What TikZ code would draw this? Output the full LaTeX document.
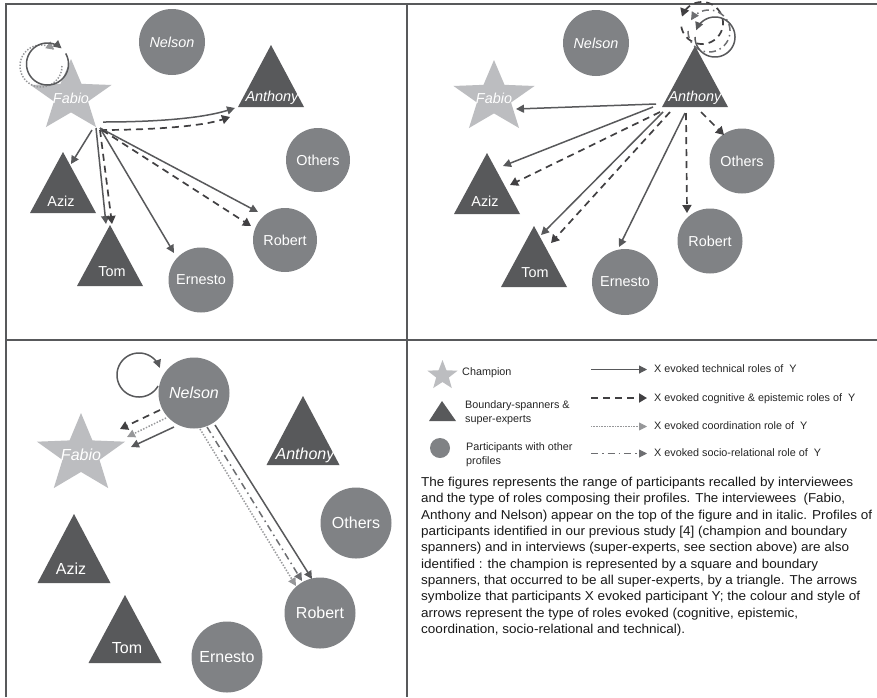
\documentclass[tikz,border=0pt]{standalone}
\usepackage{graphicx}
\usepackage{fontspec}
\setmainfont{Liberation Sans}
\usetikzlibrary{arrows.meta}
\definecolor{circ}{HTML}{808285}
\definecolor{tria}{HTML}{58595B}
\definecolor{stary}{HTML}{BCBDC0}
\definecolor{techc}{HTML}{58595B}
\definecolor{cogc}{HTML}{414042}
\definecolor{coorc}{HTML}{969799}
\definecolor{socc}{HTML}{6D6E71}
\definecolor{framec}{HTML}{58595B}
\tikzset{
  frameline/.style={draw=framec,line width=1.4},
  tech/.style={draw=techc,line width=1.5,-{Triangle[length=8,width=8,fill=techc]}},
  cog/.style={draw=cogc,line width=1.7,dash pattern=on 7 off 5,-{Triangle[length=8,width=9,fill=cogc]}},
  coor/.style={draw=coorc,line width=1.5,dash pattern=on 1.4 off 1.6,-{Triangle[length=8,width=8,fill=coorc]}},
  soc/.style={draw=socc,line width=1.5,dash pattern=on 7 off 4 on 1.5 off 4,-{Triangle[length=8,width=8,fill=socc]}},
  lgtech/.style={tech,line width=1},
  lgcog/.style={cog,line width=1.8},
  lgcoor/.style={coor,line width=.8,dash pattern=on .8 off .8},
  lgsoc/.style={soc,line width=.9},
  person/.style={circle,fill=circ,text=white,inner sep=0pt},
  small/.style={font=\fontsize{14.4}{17}\selectfont},
  big/.style={font=\fontsize{16}{19}\selectfont},
  plain/.style={text=white,inner sep=0pt},
  lgtext/.style={anchor=west,inner sep=0pt,text=black!85,font=\fontsize{10.8}{14}\selectfont,align=left},
  para/.style={anchor=north west,inner sep=0pt,text=black!90,align=left,font=\fontsize{12.9}{16.33}\selectfont},
}
\newcommand\trilabel[7]{% apex x,y, half width, base y, label pos, name, style
  \fill[tria] (#1,#2) -- (#1-#3,#4) -- (#1+#3,#4) -- cycle;
  \node[plain,#7] (#6) at (#5)
}
\newcommand\starpoly[4]{% cx, cy, Rx, Ry
  \fill[stary] plot[samples at={90,126,162,198,234,270,306,342,378,414},variable=\a]
    ({#1+#3*cos(\a)*(mod(\a,72)==18?1:0.42)},{#2-#4*sin(\a)*(mod(\a,72)==18?1:0.42)}) -- cycle;
}
\newcommand\link[5]{\coordinate (#2) at (#3); \coordinate (#4) at (#5); \draw[#1] (#2) -- (#4);}
\newcommand\selfloop[6]{\draw[#1,domain=#5:#6,samples=90,variable=\t] plot ({#2+#4*cos(\t)},{#3+#4*sin(\t)});}
\newcommand\pl[2]{\resizebox{#1pt}{\height}{#2}}
\begin{document}
\begin{tikzpicture}[x=1pt,y=-1pt]
\useasboundingbox (0,0) rectangle (877,697);
\fill[white] (0,0) rectangle (877,697);
% frame
\coordinate (fTL) at (6,4); \coordinate (fTR) at (877,4);
\coordinate (fBL) at (6,697); \coordinate (fTM) at (407,4); \coordinate (fBM) at (407,697);
\coordinate (fML) at (6,340); \coordinate (fMR) at (877,340);
\draw[frameline] (fBL) -- (fTL) -- (fTR);
\draw[frameline] (fTM) -- (fBM);
\draw[frameline] (fML) -- (fMR);

% ---------- panel 1
\node[person,small,minimum size=66] (N1) at (172,42) {\itshape Nelson};
\node[person,small,minimum size=64] (O1) at (318,160) {Others};
\node[person,small,minimum size=64] (R1) at (285,240) {Robert};
\node[person,small,minimum size=65] (E1) at (201,280) {Ernesto};
\trilabel{271}{45}{33}{107}{272,98}{An1}{small}{\itshape Anthony};
\trilabel{110}{225}{33}{286}{112,272}{To1}{small}{Tom};
\trilabel{63}{152}{33}{213}{61,201}{Az1}{small}{Aziz};
\starpoly{71}{96.6}{42.6}{37.6}
\node[plain,small] (F1) at (71,98) {\itshape Fabio};
\selfloop{coor}{41}{66}{21}{0}{309}
\selfloop{tech}{47.5}{64}{21}{-30}{312}
\coordinate (a1s) at (103,122); \coordinate (a1e) at (235,108);
\draw[tech] (a1s) .. controls (150,122) and (200,119) .. (a1e);
\coordinate (a2s) at (100,130); \coordinate (a2e) at (230,117);
\draw[cog] (a2s) .. controls (145,130) and (200,127) .. (a2e);
\link{tech}{a3s}{92,130}{a3e}{71,164}
\link{tech}{a4s}{96,128}{a4e}{106,224}
\link{cog}{a5s}{100,130}{a5e}{112,224}
\link{tech}{a6s}{100,128}{a6e}{174,253}
\link{tech}{a7s}{100,128}{a7e}{258,212}
\link{cog}{a8s}{102,130}{a8e}{251,226}

% ---------- panel 2
\node[person,small,minimum size=66] (N2) at (596,43) {\itshape Nelson};
\node[person,small,minimum size=65] (O2) at (742,161) {Others};
\node[person,small,minimum size=65] (R2) at (710,241) {Robert};
\node[person,small,minimum size=66] (E2) at (625,282) {Ernesto};
\trilabel{695}{46}{33}{107}{695,98}{An2}{small}{\itshape Anthony};
\trilabel{534}{226}{33}{287}{535,273}{To2}{small}{Tom};
\trilabel{487}{153}{33}{214}{485,201}{Az2}{small}{Aziz};
\starpoly{494}{97.6}{42.6}{37.6}
\node[plain,small] (F2) at (494,98) {\itshape Fabio};
\selfloop{cog}{702}{23}{21}{530}{198}
\selfloop{soc}{709}{31}{21}{540}{211}
\selfloop{tech}{715}{37}{20}{540}{200}
\link{tech}{b1s}{656,104}{b1e}{516,109}
\link{tech}{b2s}{653,107}{b2e}{503,166}
\link{cog}{b3s}{660,112}{b3e}{510,185}
\link{tech}{b4s}{663,112}{b4e}{541,235}
\link{cog}{b5s}{670,112}{b5e}{551,243}
\link{tech}{b6s}{685,113}{b6e}{619,247}
\link{cog}{b7s}{686,113}{b7e}{687,213}
\link{cog}{b8s}{701,112}{b8e}{724,135}

% ---------- panel 3
\node[person,big,minimum size=71] (N3) at (194,393) {\itshape Nelson};
\node[person,big,minimum size=71] (O3) at (356,523) {Others};
\node[person,big,minimum size=71] (R3) at (320,613) {Robert};
\node[person,big,minimum size=71] (E3) at (227,657) {Ernesto};
\trilabel{303}{396}{36.5}{465}{305,455}{An3}{big}{\itshape Anthony};
\trilabel{125}{595}{36.5}{663}{127,648}{To3}{big}{Tom};
\trilabel{74}{514}{36.5}{583}{71,569}{Az3}{big}{Aziz};
\starpoly{81}{454.5}{46.3}{41.5}
\node[plain,big] (F3) at (81,455) {\itshape Fabio};
\selfloop{tech}{139}{375}{22}{30}{341}
\link{cog}{c1s}{160,410}{c1e}{120,429}
\link{coor}{c2s}{166,418}{c2e}{127,437}
\link{tech}{c3s}{174,427}{c3e}{131,447}
\link{tech}{c4s}{215,425}{c4e}{312,579}
\link{soc}{c5s}{207,427}{c5e}{302,581}
\link{coor}{c6s}{200,429}{c6e}{296,586}

% ---------- legend
\starpoly{442.5}{375.5}{15.8}{15.5}
\fill[tria] (442,401) -- (429,421) -- (456,421) -- cycle;
\node[circle,fill=circ,minimum size=20,inner sep=0pt] (lgP) at (440,448) {};
\node[lgtext] (tCh) at (462,373) {Champion};
\node[lgtext] (tBo) at (465,413) {Boundary-spanners \&\\super-experts};
\node[lgtext] (tPa) at (466,454.5) {Participants with other\\profiles};
\link{lgtech}{l1s}{591,369.5}{l1e}{647,369.5}
\link{lgcog}{l2s}{591,398}{l2e}{647,398}
\link{lgcoor}{l3s}{591,426.5}{l3e}{647,426.5}
\link{lgsoc}{l4s}{591,453.5}{l4e}{647,453.5}
\node[lgtext] (t1) at (654,369) {X evoked technical roles of\ \ Y};
\node[lgtext] (t2) at (654,399) {X evoked cognitive \& epistemic roles of\ \ Y};
\node[lgtext] (t3) at (654,426) {X evoked coordination role of\ \ Y};
\node[lgtext] (t4) at (654,453) {X evoked socio-relational role of\ \ Y};

\node[para] (par) at (421,477) {\pl{432}{The figures represents the range of participants recalled by interviewees}\\
\pl{424}{and the type of roles composing their profiles. The interviewees\ \ (Fabio,}\\
\pl{451}{Anthony and Nelson) appear on the top of the figure and in italic. Profiles of}\\
\pl{426}{participants identified in our previous study [4] (champion and boundary}\\
\pl{428}{spanners) and in interviews (super-experts, see section above) are also}\\
\pl{397}{identified : the champion is represented by a square and boundary}\\
\pl{436}{spanners, that occurred to be all super-experts, by a triangle. The arrows}\\
\pl{439}{symbolize that participants X evoked participant Y; the colour and style of}\\
\pl{377}{arrows represent the type of roles evoked (cognitive, epistemic,}\\
\pl{264}{coordination, socio-relational and technical).}};
\end{tikzpicture}
\end{document}
